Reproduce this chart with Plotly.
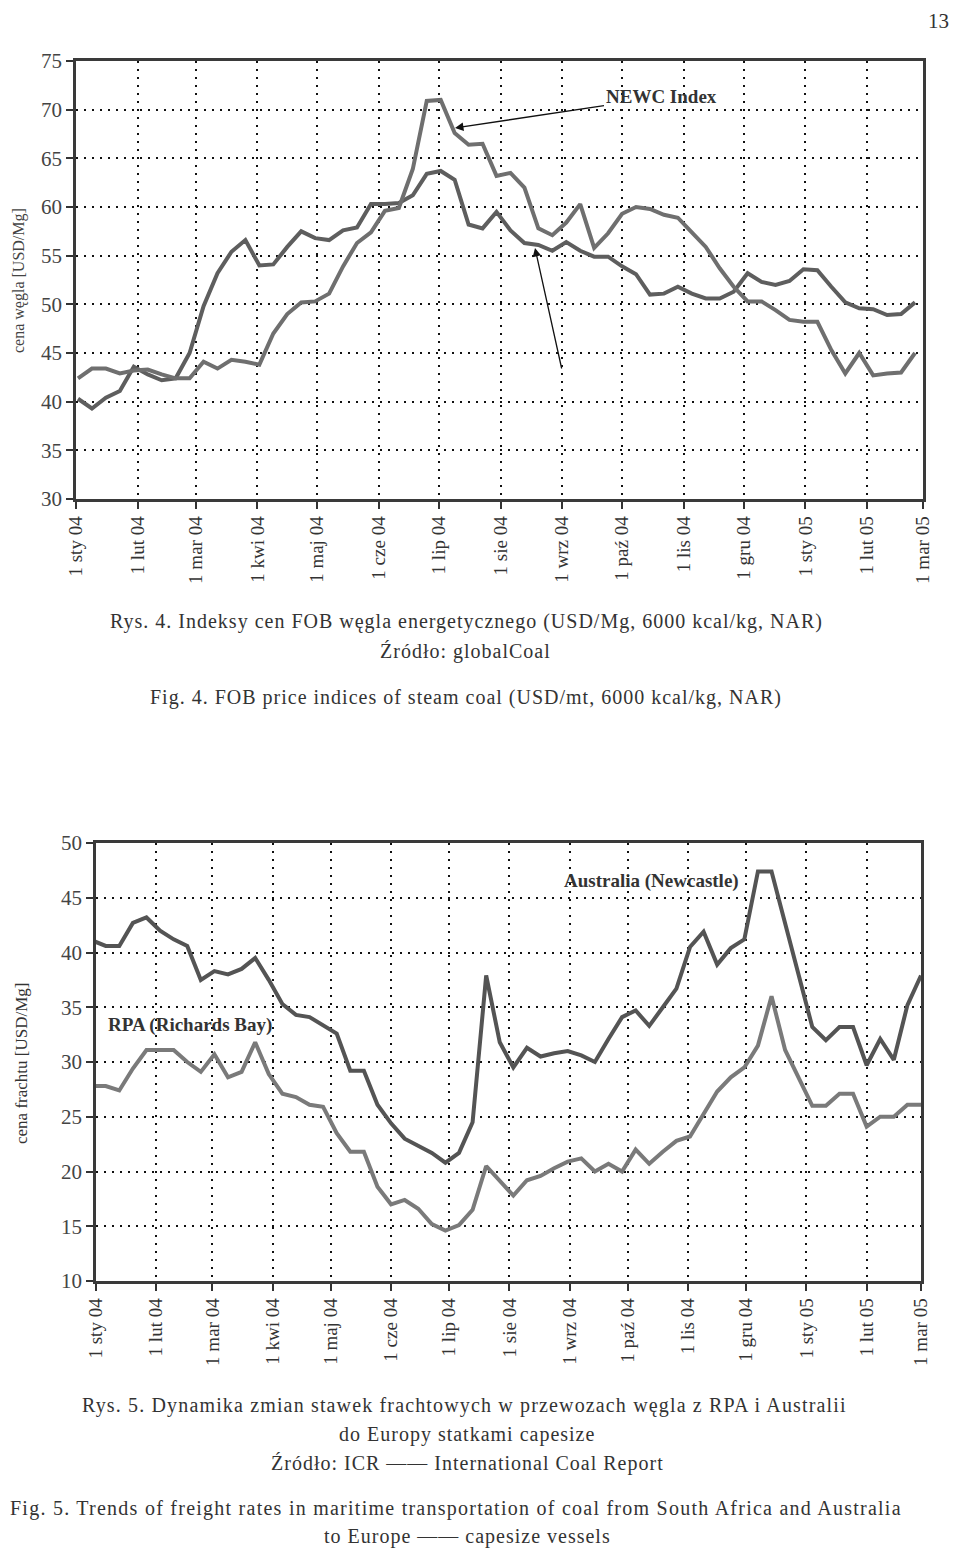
import pandas as pd
import plotly.graph_objects as go

# ---------------- data ----------------
month_ticks = ["2004-01-01", "2004-02-01", "2004-03-01", "2004-04-01", "2004-05-01",
               "2004-06-01", "2004-07-01", "2004-08-01", "2004-09-01", "2004-10-01",
               "2004-11-01", "2004-12-01", "2005-01-01", "2005-02-01", "2005-03-01"]
month_labels = ["1 sty 04", "1 lut 04", "1 mar 04", "1 kwi 04", "1 maj 04", "1 cze 04",
                "1 lip 04", "1 sie 04", "1 wrz 04", "1 paź 04", "1 lis 04", "1 gru 04",
                "1 sty 05", "1 lut 05", "1 mar 05"]

# Fig. 4 - weekly FOB indices (USD/Mg)
weeks_top = pd.date_range("2004-01-02", periods=61, freq="7D")
newc_index = [42.4, 43.4, 43.4, 42.9, 43.2, 43.3, 42.8, 42.4, 42.4, 44.1,
              43.4, 44.3, 44.1, 43.8, 47.0, 49.0, 50.2, 50.3, 51.1, 53.9,
              56.3, 57.4, 59.6, 59.9, 63.9, 70.9, 71.0, 67.6, 66.4, 66.5,
              63.2, 63.5, 62.0, 57.8, 57.1, 58.4, 60.3, 55.8, 57.3, 59.3,
              60.0, 59.8, 59.2, 58.9, 57.4, 55.9, 53.7, 51.8, 50.3, 50.3,
              49.4, 48.4, 48.2, 48.2, 45.3, 42.9, 45.0, 42.7, 42.9, 43.0, 45.0]
other_index = [40.3, 39.3, 40.4, 41.1, 43.6, 42.8, 42.2, 42.4, 45.0, 49.8,
               53.2, 55.4, 56.6, 54.0, 54.1, 55.9, 57.5, 56.8, 56.6, 57.6,
               57.9, 60.3, 60.3, 60.4, 61.2, 63.4, 63.7, 62.8, 58.2, 57.8,
               59.5, 57.6, 56.3, 56.1, 55.5, 56.4, 55.5, 54.9, 54.9, 53.9,
               53.1, 51.0, 51.1, 51.8, 51.1, 50.6, 50.6, 51.3, 53.2, 52.3,
               52.0, 52.4, 53.6, 53.5, 51.8, 50.2, 49.6, 49.5, 48.9, 49.0, 50.2]

# Fig. 5 - weekly capesize freight rates (USD/Mg)
weeks_bot = pd.date_range("2003-12-30", periods=62, freq="7D")
australia = [41.1, 40.6, 40.6, 42.7, 43.2, 42.0, 41.2, 40.6, 37.5, 38.3,
             38.0, 38.5, 39.5, 37.5, 35.3, 34.3, 34.1, 33.3, 32.6, 29.2,
             29.2, 26.1, 24.4, 23.0, 22.4, 21.7, 20.8, 21.7, 24.5, 37.9,
             31.8, 29.5, 31.3, 30.5, 30.8, 31.0, 30.6, 30.0, 32.1, 34.1,
             34.7, 33.3, 35.0, 36.7, 40.5, 41.9, 38.9, 40.4, 41.2, 47.4,
             47.4, 42.7, 38.0, 33.2, 32.0, 33.2, 33.2, 29.7, 32.1, 30.2, 35.2, 37.9]
rpa = [27.8, 27.8, 27.4, 29.4, 31.1, 31.1, 31.1, 30.0, 29.1, 30.7,
       28.6, 29.1, 31.8, 28.9, 27.1, 26.8, 26.1, 25.9, 23.5, 21.8,
       21.8, 18.6, 17.0, 17.4, 16.6, 15.2, 14.6, 15.1, 16.5, 20.5,
       19.1, 17.8, 19.2, 19.6, 20.3, 20.9, 21.2, 20.0, 20.7, 20.0,
       22.0, 20.7, 21.8, 22.8, 23.2, 25.2, 27.3, 28.6, 29.5, 31.5,
       36.0, 31.1, 28.5, 26.0, 26.0, 27.1, 27.1, 24.1, 25.0, 25.0, 26.1, 26.1]

# ---------------- figure ----------------
OFF = 8                      # page body margin in the browser
W, H = 960 - OFF, 1550 - OFF
SERIF = "Liberation Serif, Times New Roman, serif"

def px(x):
    return (x - OFF) / W

def py(y):
    return 1 - (y - OFF) / H

fig = go.Figure()
fig.add_trace(go.Scatter(x=weeks_top, y=other_index, mode="lines", xaxis="x", yaxis="y",
                         line=dict(color="#5e5e5e", width=4), showlegend=False))
fig.add_trace(go.Scatter(x=weeks_top, y=newc_index, mode="lines", xaxis="x", yaxis="y",
                         line=dict(color="#6f6f6f", width=4), showlegend=False))
fig.add_trace(go.Scatter(x=weeks_bot, y=australia, mode="lines", xaxis="x2", yaxis="y2",
                         line=dict(color="#545454", width=4), showlegend=False))
fig.add_trace(go.Scatter(x=weeks_bot, y=rpa, mode="lines", xaxis="x2", yaxis="y2",
                         line=dict(color="#7a7a7a", width=4), showlegend=False))

common_x = dict(type="date", tickmode="array", tickvals=month_ticks, ticktext=month_labels,
                tickangle=-90, ticks="outside", ticklen=7, tickwidth=2, tickcolor="#333",
                showline=True, linewidth=2.5, linecolor="#3a3a3a", mirror=True,
                showgrid=True, gridcolor="#111", gridwidth=2, griddash="2px,6px",
                tickfont=dict(family=SERIF, size=19, color="#333"), zeroline=False,
                automargin=False, fixedrange=True)
common_y = dict(ticks="outside", ticklen=7, tickwidth=2, tickcolor="#333",
                showline=True, linewidth=2.5, linecolor="#3a3a3a", mirror=True,
                showgrid=True, gridcolor="#111", gridwidth=2, griddash="2px,6px",
                tickfont=dict(family=SERIF, size=21, color="#444"), zeroline=False,
                dtick=5, automargin=False, fixedrange=True)

fig.update_layout(
    width=W, height=H,
    margin=dict(l=0, r=0, t=0, b=0, pad=0, autoexpand=False),
    paper_bgcolor="white", plot_bgcolor="white",
    xaxis=dict(common_x, domain=[px(76), px(923)], range=["2004-01-01", "2005-03-01"],
               anchor="y"),
    yaxis=dict(common_y, domain=[py(499), py(61)], range=[30, 75], anchor="x"),
    xaxis2=dict(common_x, domain=[px(96), px(921)], range=["2004-01-01", "2005-03-01"],
                anchor="y2"),
    yaxis2=dict(common_y, domain=[py(1281), py(843)], range=[10, 50], anchor="x2"),
)

ann = []

def text(x, y, s, size=20, color="#333", angle=0, bold=False):
    if bold:
        s = "<b>" + s + "</b>"
    ann.append(dict(x=px(x), y=py(y), xref="paper", yref="paper", text=s, showarrow=False,
                    textangle=angle, xanchor="center", yanchor="middle", borderpad=0,
                    font=dict(family=SERIF, size=size, color=color)))

def spaced(s, ls=1.0):
    return '<span style="letter-spacing:%.2fpx">' % ls + s + "</span>"

# page number
text(938, 21, "13", size=21, color="#333")

# axis titles
text(19, 281, "cena węgla [USD/Mg]", size=16, color="#444", angle=-90)
text(21, 1064, "cena frachtu [USD/Mg]", size=17, color="#333", angle=-90)

# in-chart labels
ann.append(dict(x=px(455), y=py(128), xref="paper", yref="paper",
                text="<b>NEWC Index</b>", showarrow=True, ax=206, ay=-31,
                arrowhead=2, arrowsize=1.3, arrowwidth=1.3, arrowcolor="#111",
                font=dict(family=SERIF, size=19, color="#333")))
ann.append(dict(x=px(535), y=py(248), xref="paper", yref="paper",
                text="", showarrow=True, ax=27, ay=122,
                arrowhead=2, arrowsize=1.3, arrowwidth=1.3, arrowcolor="#111"))
text(651, 881, "Australia (Newcastle)", size=19, color="#333", bold=True)
text(190, 1025, "RPA (Richards Bay)", size=19, color="#333", bold=True)

# captions
text(466, 622, spaced("Rys. 4. Indeksy cen FOB węgla energetycznego (USD/Mg, 6000 kcal/kg, NAR)"))
text(465, 651, spaced("Źródło: globalCoal"))
text(466, 697, spaced("Fig. 4. FOB price indices of steam coal (USD/mt, 6000 kcal/kg, NAR)"))
text(464, 1405, spaced("Rys. 5. Dynamika zmian stawek frachtowych w przewozach węgla z RPA i Australii", 1.15))
text(467, 1434, spaced("do Europy statkami capesize"))
text(467, 1463, spaced("Źródło: ICR —— International Coal Report"))
text(456, 1508, spaced("Fig. 5. Trends of freight rates in maritime transportation of coal from South Africa and Australia", 1.25))
text(467, 1536, spaced("to Europe —— capesize vessels"))

fig.update_layout(annotations=ann)
fig.write_html("out.html")
